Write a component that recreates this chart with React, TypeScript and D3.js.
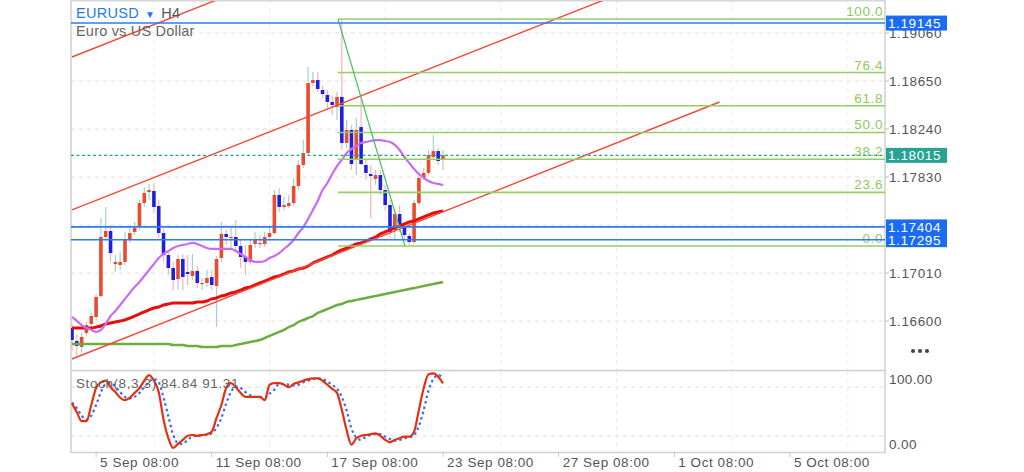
import * as d3 from "d3"

// H4 candles, EURUSD
const candleOpen = [
  1.16541, 1.1643, 1.16379, 1.16498, 1.16575, 1.16635, 1.16814, 1.17318, 1.17369, 1.17087,
  1.17079, 1.17105, 1.17292, 1.17361, 1.17403, 1.17608, 1.17702, 1.17711, 1.17583, 1.17352,
  1.17164, 1.17053, 1.16959, 1.1713, 1.17019, 1.16985, 1.17028, 1.16917, 1.16925, 1.16976,
  1.169, 1.17139, 1.17344, 1.17309, 1.17318, 1.17241, 1.17147, 1.17105, 1.17258, 1.17258,
  1.17258, 1.17318, 1.17352, 1.17677, 1.17574, 1.17583, 1.17608, 1.17754, 1.17933, 1.18035,
  1.18633, 1.18659, 1.18573, 1.18531, 1.18471, 1.18428, 1.18514, 1.18121, 1.18232, 1.17976,
  1.18257, 1.17933, 1.17856, 1.17813, 1.17847, 1.17719, 1.17591, 1.17378, 1.17514, 1.17403,
  1.17327, 1.17275, 1.17608, 1.17822, 1.17865, 1.18001, 1.18052, 1.17976,
]
const candleHigh = [
  1.16575, 1.1649, 1.16498, 1.16592, 1.16669, 1.16831, 1.1748, 1.17574, 1.1742, 1.17164,
  1.1719, 1.17361, 1.1742, 1.17446, 1.17634, 1.17745, 1.17771, 1.17779, 1.17634, 1.17395,
  1.17207, 1.17105, 1.17164, 1.17173, 1.17164, 1.17173, 1.1707, 1.16968, 1.17036, 1.17036,
  1.17156, 1.17446, 1.17378, 1.17395, 1.17463, 1.17292, 1.1725, 1.17292, 1.17361, 1.17335,
  1.17361, 1.1742, 1.17719, 1.17736, 1.1766, 1.17677, 1.17822, 1.17976, 1.18146, 1.1877,
  1.18727, 1.18727, 1.18608, 1.18573, 1.18522, 1.18556, 1.1918, 1.18317, 1.18274, 1.18334,
  1.18505, 1.17976, 1.17933, 1.1789, 1.1789, 1.17762, 1.17634, 1.17549, 1.17591, 1.17446,
  1.17352, 1.17634, 1.17847, 1.17907, 1.18061, 1.18189, 1.18078, 1.18061,
]
const candleLow = [
  1.16353, 1.16302, 1.16336, 1.16473, 1.16549, 1.16609, 1.16797, 1.17292, 1.17105, 1.17019,
  1.17036, 1.17079, 1.17267, 1.17335, 1.17378, 1.17574, 1.17634, 1.17523, 1.17309, 1.17105,
  1.16993, 1.16865, 1.16865, 1.16865, 1.16908, 1.16951, 1.16882, 1.16865, 1.16891, 1.16865,
  1.16549, 1.17105, 1.1725, 1.17224, 1.17207, 1.17053, 1.16993, 1.17079, 1.17224, 1.17224,
  1.17233, 1.17292, 1.17335, 1.17532, 1.17549, 1.17566, 1.17583, 1.17719, 1.17907, 1.18018,
  1.18608, 1.18556, 1.18505, 1.18403, 1.1836, 1.18317, 1.18061, 1.18078, 1.1789, 1.17847,
  1.17933, 1.17805, 1.1748, 1.17762, 1.17677, 1.17549, 1.17309, 1.17292, 1.17361, 1.17292,
  1.1725, 1.17258, 1.17591, 1.17805, 1.17847, 1.17976, 1.17933, 1.1789,
]
const candleClose = [
  1.16438, 1.16387, 1.16464, 1.16566, 1.16643, 1.16806, 1.17318, 1.17369, 1.17181, 1.17105,
  1.17105, 1.17292, 1.17352, 1.17395, 1.17608, 1.17694, 1.17719, 1.17574, 1.17352, 1.17164,
  1.17053, 1.16951, 1.1713, 1.16976, 1.17002, 1.17028, 1.16925, 1.16925, 1.16968, 1.16908,
  1.1713, 1.17344, 1.17318, 1.17318, 1.17241, 1.17147, 1.17105, 1.1725, 1.17301, 1.17267,
  1.17318, 1.17352, 1.17677, 1.17574, 1.17591, 1.17608, 1.17754, 1.17933, 1.18035, 1.18633,
  1.18659, 1.18582, 1.18539, 1.18471, 1.18445, 1.18514, 1.18121, 1.18232, 1.17941, 1.18232,
  1.17941, 1.17865, 1.17839, 1.17847, 1.17719, 1.17591, 1.17361, 1.17514, 1.1742, 1.17335,
  1.17275, 1.17608, 1.17822, 1.17865, 1.18018, 1.18052, 1.17967, 1.18015,
]

// moving averages as shown on the chart
const maPurple = [
  1.16635, 1.16601, 1.16566, 1.16541, 1.16524, 1.16507, 1.16524, 1.16575, 1.16643, 1.16686,
  1.16737, 1.16789, 1.1684, 1.16891, 1.16934, 1.16985, 1.17036, 1.17087, 1.17139, 1.17173,
  1.17198, 1.17224, 1.17241, 1.1725, 1.17258, 1.17267, 1.17258, 1.17241, 1.17224, 1.17216,
  1.17216, 1.17216, 1.17216, 1.17216, 1.17198, 1.17173, 1.17147, 1.17122, 1.17105, 1.17105,
  1.17113, 1.17139, 1.17156, 1.17181, 1.17216, 1.1725, 1.17292, 1.17352, 1.17403, 1.17472,
  1.17549, 1.17625, 1.17719, 1.17779, 1.17856, 1.17924, 1.17976, 1.18035, 1.1807, 1.18095,
  1.18121, 1.18129, 1.18138, 1.18146, 1.18146, 1.18138, 1.18129, 1.18104, 1.18061, 1.18001,
  1.1795, 1.17899, 1.17856, 1.17822, 1.17796, 1.17779, 1.17771, 1.17762,
]
const maRed = [
  1.16541, 1.16541, 1.16541, 1.16541, 1.16541, 1.16549, 1.16558, 1.16575, 1.16584, 1.16592,
  1.16601, 1.16609, 1.16626, 1.16643, 1.1666, 1.16678, 1.16695, 1.16712, 1.1672, 1.16737,
  1.16746, 1.16754, 1.16754, 1.16754, 1.16754, 1.16754, 1.16763, 1.16763, 1.16771, 1.16789,
  1.16797, 1.16814, 1.16823, 1.1684, 1.16848, 1.16865, 1.16882, 1.16891, 1.16908, 1.16925,
  1.16942, 1.16959, 1.16976, 1.16985, 1.17002, 1.17019, 1.17028, 1.17045, 1.17053, 1.1707,
  1.17096, 1.17113, 1.1713, 1.17147, 1.17164, 1.1719, 1.17207, 1.17224, 1.17241, 1.17258,
  1.17267, 1.17284, 1.17301, 1.17318, 1.17344, 1.17361, 1.17378, 1.17395, 1.17412, 1.17429,
  1.17446, 1.17455, 1.17472, 1.17489, 1.17506, 1.17523, 1.17532, 1.1754,
]
const maGreen = [
  1.16404, 1.16404, 1.16404, 1.16404, 1.16404, 1.16404, 1.16404, 1.16404, 1.16404, 1.16404,
  1.16404, 1.16404, 1.16404, 1.16404, 1.16404, 1.16404, 1.16404, 1.16404, 1.16404, 1.16404,
  1.16404, 1.16396, 1.16396, 1.16396, 1.16387, 1.16387, 1.16387, 1.16379, 1.16379, 1.16379,
  1.16379, 1.16387, 1.16387, 1.16387, 1.16396, 1.16404, 1.16413, 1.16421, 1.1643, 1.16438,
  1.16455, 1.16473, 1.1649, 1.16507, 1.16524, 1.16549, 1.16566, 1.16592, 1.16609, 1.16626,
  1.16643, 1.16669, 1.16686, 1.16703, 1.1672, 1.16737, 1.16746, 1.16763, 1.16771, 1.1678,
  1.16789, 1.16797, 1.16806, 1.16814, 1.16823, 1.16831, 1.1684, 1.16848, 1.16857, 1.16865,
  1.16874, 1.16882, 1.16891, 1.169, 1.16908, 1.16917, 1.16925, 1.16934,
]

// Stochastic (8,3,3)
const stochMain = [
  60, 49, 38, 38, 58, 79, 86, 88, 80, 74,
  67, 64, 67, 73, 79, 88, 95, 88, 74, 40,
  17, 5, 10, 15, 20, 21, 20, 21, 22, 25,
  42, 58, 79, 85, 80, 73, 68, 68, 68, 68,
  64, 83, 85, 85, 83, 80, 84, 86, 88, 90,
  91, 91, 88, 83, 78, 73, 52, 27, 9, 17,
  20, 21, 22, 23, 20, 15, 12, 15, 17, 19,
  19, 25, 52, 79, 96, 97, 93, 84.84,
]
const stochSignal = [
  61, 54, 45, 40, 45, 58, 74, 84, 85, 81,
  74, 68, 66, 68, 73, 80, 87, 90, 86, 67,
  44, 21, 11, 10, 15, 19, 20, 21, 21, 23,
  30, 42, 60, 74, 81, 79, 74, 70, 68, 68,
  67, 72, 77, 84, 84, 83, 82, 83, 86, 88,
  90, 91, 90, 87, 83, 78, 68, 51, 29, 18,
  15, 19, 21, 22, 22, 19, 16, 14, 15, 17,
  18, 21, 32, 52, 76, 90, 95, 91.31,
]

// grid levels; the 1.17420 label is hidden behind the level tags in the original
const priceTicks = [1.1906, 1.1865, 1.1824, 1.1783, 1.1742, 1.1701, 1.166]
const priceTickShown = [true, true, true, true, false, true, true]
const timeTickIndex = [5, 29, 53, 77, 101, 125, 149]
const timeTickLabels = ["5 Sep 08:00", "11 Sep 08:00", "17 Sep 08:00", "23 Sep 08:00", "27 Sep 08:00", "1 Oct 08:00", "5 Oct 08:00"]

// drawn objects
const trendStartIndex = [0, 0, 0]
const trendStartPrice = [1.18855, 1.17549, 1.16276]
const trendEndIndex = [40, 112, 134.4]
const trendEndPrice = [1.19505, 1.19368, 1.18471]

const fibLevels = [0, 23.6, 38.2, 50, 61.8, 76.4, 100]
const fibHigh = 1.1918
const fibLow = 1.17241
const fibFromIndex = 55.2
const fibToIndex = 69.1

const blueLevels = [1.19145, 1.17404, 1.17295]
const lastPrice = 1.18015

const W = 1024
const H = 472
const left = 71
const right = 885
const mainTop = 0
const mainBottom = 370
const stochTop = 371
const stochBottom = 452

const font = "'Liberation Sans', Arial, sans-serif"

export default function App() {
  const x = d3.scaleLinear().domain([0, 77]).range([72, 443])
  const y = d3.scaleLinear().domain([1.16182, 1.19342]).range([mainBottom, mainTop])
  const ys = d3.scaleLinear().domain([0, 100]).range([stochBottom, stochTop])

  const idx = d3.range(candleOpen.length)
  const maLine = (vals: number[]) =>
    d3.line<number>().x((_, i) => x(i)).y((v) => y(v)).curve(d3.curveMonotoneX)(vals) || ""
  const stLine = (vals: number[]) =>
    d3.line<number>().x((_, i) => x(i)).y((v) => ys(v)).curve(d3.curveMonotoneX)(vals) || ""

  const gridX = timeTickIndex.map((t) => t + 12)
  const fibX0 = x(fibFromIndex)

  return (
    <svg width={W} height={H} style={{ position: "absolute", left: 0, top: 0, background: "#fff" }} fontFamily={font}>
      <defs>
        <clipPath id="mainClip">
          <rect x={left} y={mainTop + 1} width={right - left} height={mainBottom - mainTop - 1} />
        </clipPath>
        <clipPath id="stochClip">
          <rect x={left} y={stochTop} width={right - left} height={stochBottom - stochTop} />
        </clipPath>
      </defs>

      {/* grid */}
      {priceTicks.map((p) => (
        <line key={"gy" + p} x1={left} x2={right} y1={y(p)} y2={y(p)} stroke="#e2e2e2" strokeDasharray="4,4" />
      ))}
      {[80, 20].map((v) => (
        <line key={"gs" + v} x1={left} x2={right} y1={ys(v)} y2={ys(v)} stroke="#dcdcdc" strokeDasharray="4,4" />
      ))}
      {gridX.map((g) => (
        <g key={"gx" + g}>
          <line x1={x(g)} x2={x(g)} y1={mainTop} y2={mainBottom} stroke="#ececec" strokeDasharray="4,4" />
          <line x1={x(g)} x2={x(g)} y1={stochTop} y2={stochBottom} stroke="#ececec" strokeDasharray="4,4" />
        </g>
      ))}

      {/* frame */}
      <line x1={left} x2={left} y1={0} y2={stochBottom + 1} stroke="#cfcfcf" strokeWidth={1.5} />
      <line x1={right} x2={right} y1={0} y2={stochBottom + 1} stroke="#cfcfcf" strokeWidth={1.5} />
      <line x1={left} x2={right} y1={0.75} y2={0.75} stroke="#d6d6d6" strokeWidth={1.5} />
      <line x1={left} x2={right} y1={mainBottom + 0.5} y2={mainBottom + 0.5} stroke="#d0d0d0" strokeWidth={1.5} />
      <line x1={left} x2={right} y1={stochBottom + 0.5} y2={stochBottom + 0.5} stroke="#d0d0d0" strokeWidth={1.5} />

      {/* price axis */}
      {priceTicks.map((p, k) => (
        <g key={"pt" + p}>
          <line x1={right} x2={right + 4} y1={y(p)} y2={y(p)} stroke="#bbb" />
          {priceTickShown[k] && (
            <text x={right + 4} y={y(p)} dy="0.36em" fontSize={13.5} fill="#555" letterSpacing={0.6}>
              {p.toFixed(5)}
            </text>
          )}
        </g>
      ))}
      <text x={right + 4} y={ys(100) + 8} dy="0.36em" fontSize={13.5} fill="#555" letterSpacing={0.4}>100.00</text>
      <text x={right + 4} y={ys(0) - 8} dy="0.36em" fontSize={13.5} fill="#555" letterSpacing={0.4}>0.00</text>

      {/* time axis */}
      {timeTickIndex.map((t, k) => (
        <g key={"tt" + t}>
          <line x1={x(t)} x2={x(t)} y1={stochBottom} y2={stochBottom + 5} stroke="#c8c8c8" />
          <text x={x(t) + 4} y={467} fontSize={13.5} fill="#555" letterSpacing={0.55}>
            {timeTickLabels[k]}
          </text>
        </g>
      ))}

      <g clipPath="url(#mainClip)">
        {/* candles */}
        {idx.map((i) => {
          const up = candleClose[i] >= candleOpen[i]
          const top = y(Math.max(candleOpen[i], candleClose[i]))
          const bot = y(Math.min(candleOpen[i], candleClose[i]))
          return (
            <g key={"c" + i}>
              <line x1={x(i)} x2={x(i)} y1={y(candleHigh[i])} y2={y(candleLow[i])} stroke={up ? "#9fd3cf" : "#f4b4b4"} strokeWidth={1.2} />
              <rect x={x(i) - 1.8} width={3.6} y={top} height={Math.max(1.2, bot - top)} fill={up ? "#ea4b2c" : "#1f1fe0"} />
            </g>
          )
        })}

        {/* moving averages */}
        <path d={maLine(maGreen)} fill="none" stroke="#6cae3e" strokeWidth={2.5} />
        <path d={maLine(maRed)} fill="none" stroke="#e60d0d" strokeWidth={3} />
        <path d={maLine(maPurple)} fill="none" stroke="#cc6bf0" strokeWidth={2.2} />

        {/* trend channel */}
        {trendStartIndex.map((s, k) => (
          <line
            key={"tr" + k}
            x1={x(s)}
            y1={y(trendStartPrice[k])}
            x2={x(trendEndIndex[k])}
            y2={y(trendEndPrice[k])}
            stroke="#ef4b3a"
            strokeWidth={1.4}
          />
        ))}

        {/* fibonacci */}
        {fibLevels.map((lv) => {
          const p = fibLow + ((fibHigh - fibLow) * lv) / 100
          return (
            <g key={"fib" + lv}>
              <line x1={fibX0} x2={right} y1={y(p)} y2={y(p)} stroke="#93cf63" strokeWidth={1.6} />
              <text x={right - 2} y={y(p) - 3} textAnchor="end" fontSize={13.5} fill="#8dcb5b" letterSpacing={0.6}>
                {lv.toFixed(1)}
              </text>
            </g>
          )
        })}
        <line x1={fibX0} y1={y(fibHigh)} x2={x(fibToIndex)} y2={y(fibLow)} stroke="#4cc061" strokeWidth={1.2} />

        {/* horizontal levels */}
        {blueLevels.map((p) => (
          <line key={"bl" + p} x1={left} x2={right} y1={y(p)} y2={y(p)} stroke="#2f7bef" strokeWidth={1.6} />
        ))}
        <line x1={left} x2={right} y1={y(lastPrice)} y2={y(lastPrice)} stroke="#22a699" strokeWidth={1.3} strokeDasharray="3,2.5" />
      </g>

      {/* stochastic */}
      <g clipPath="url(#stochClip)">
        <path d={stLine(stochSignal)} fill="none" stroke="#3b6cf0" strokeWidth={2.2} strokeDasharray="2.5,3" />
        <path d={stLine(stochMain)} fill="none" stroke="#e5300f" strokeWidth={2.2} />
      </g>
      <text x={76} y={388} fontSize={13.5} fill="#666" letterSpacing={0.6}>
        Stoch(8,3,3) {stochMain[stochMain.length - 1].toFixed(2)} {stochSignal[stochSignal.length - 1].toFixed(2)}
      </text>

      {/* price labels */}
      {blueLevels.map((p) => (
        <g key={"lb" + p}>
          <rect x={right + 1} y={y(p) - 7.5} width={61} height={15} fill="#1a6cf5" />
          <text x={right + 3} y={y(p)} dy="0.36em" fontSize={13.5} fill="#fff" letterSpacing={0.6}>
            {p.toFixed(5)}
          </text>
        </g>
      ))}
      <rect x={right + 1} y={y(lastPrice) - 7.5} width={61} height={15} fill="#27a394" />
      <text x={right + 3} y={y(lastPrice)} dy="0.36em" fontSize={13.5} fill="#fff" letterSpacing={0.6}>
        {lastPrice.toFixed(5)}
      </text>

      {/* title */}
      <text x={76} y={18} fontSize={14.5} letterSpacing={0.3}>
        <tspan fill="#1f78f0">EURUSD</tspan>
        <tspan fill="#1f78f0" fontSize={10} dx={6}>▼</tspan>
        <tspan fill="#555" dx={6}>H4</tspan>
      </text>
      <text x={76} y={36} fontSize={14.5} fill="#666" letterSpacing={0.2}>Euro vs US Dollar</text>

      {/* menu dots */}
      {[913, 920, 927].map((cx) => (
        <circle key={"d" + cx} cx={cx} cy={351} r={2} fill="#444" />
      ))}
    </svg>
  )
}
